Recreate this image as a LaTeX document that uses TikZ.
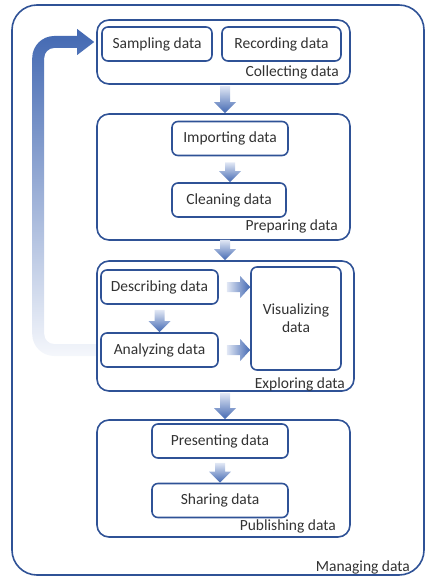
\documentclass[tikz,border=0pt]{standalone}
\usepackage{fontspec}
\setmainfont{Carlito}
\usetikzlibrary{calc}
\definecolor{boxblue}{RGB}{47,82,150}
\definecolor{flowdark}{RGB}{66,104,178}
\definecolor{flowlight}{RGB}{226,232,245}
\definecolor{inkgray}{RGB}{50,50,50}

\newcommand\downflow[2]{%
  \shade[top color=flowlight,bottom color=flowdark] let \p1=(#1),\p2=(#2) in
    (\x1-5pt,\y1) -- (\x1+5pt,\y1) -- (\x1+5pt,\y2+11pt) -- (\x1+11pt,\y2+11pt)
    -- (\x1,\y2) -- (\x1-11pt,\y2+11pt) -- (\x1-5pt,\y2+11pt) -- cycle;}
\newcommand\rightflow[2]{%
  \shade[left color=flowlight,right color=flowdark] let \p1=(#1),\p2=(#2) in
    (\x1,\y1-5pt) -- (\x1,\y1+5pt) -- (\x2-10pt,\y1+5pt) -- (\x2-10pt,\y1+11pt)
    -- (\x2,\y1) -- (\x2-10pt,\y1-11pt) -- (\x2-10pt,\y1-5pt) -- cycle;}

\begin{document}
\begin{tikzpicture}[x=1pt,y=-1pt,
  txt/.style={text=inkgray,font=\fontsize{15.5}{18}\selectfont},
  stage/.style={draw=boxblue,line width=1.6pt,rounded corners=12pt,
    minimum width=253pt,inner sep=0pt},
  task/.style={txt,draw=boxblue,line width=1.6pt,rounded corners=6pt,
    minimum height=34pt,inner sep=2pt},
  tag/.style={txt,anchor=east,inner sep=0pt}]
  \useasboundingbox (0,0) rectangle (425,578);

  \node[draw=boxblue,line width=1.6pt,rounded corners=25pt,minimum width=412pt,
    minimum height=570pt] (manage) at (218,290) {};
  \node[tag] at (410,567) {Managing data};

  % the four stages
  \node[stage,minimum height=64pt] (collect) at (223.5,52) {};
  \node[stage,minimum height=126pt] (prepare) at (223.5,177) {};
  \node[stage,minimum width=257pt,minimum height=130pt] (explore) at (225.5,326) {};
  \node[stage,minimum height=117pt] (publish) at (223.5,478.5) {};
  \node[tag] at (339,72) {Collecting data};
  \node[tag] at (338,226) {Preparing data};
  \node[tag] at (345,384) {Exploring data};
  \node[tag] at (336,526) {Publishing data};

  % the tasks inside them
  \node[task,minimum width=110pt] (sample) at (157,44) {Sampling data};
  \node[task,minimum width=119pt] (record) at (281.5,44) {Recording data};
  \node[task,minimum width=116pt] (import) at (230,138.5) {Importing data};
  \node[task,minimum width=114pt] (clean) at (229,200) {Cleaning data};
  \node[task,minimum width=117pt] (describe) at (159.5,287) {Describing data};
  \node[task,minimum width=117pt] (analyze) at (159.5,350) {Analyzing data};
  \node[task,minimum width=90pt,minimum height=103pt,align=center]
    (visual) at (296,318.5) {Visualizing\\data};
  \node[task,minimum width=136pt] (present) at (220,441) {Presenting data};
  \node[task,minimum width=136pt] (share) at (220,500.5) {Sharing data};

  \downflow{[shift={(1.5pt,-1pt)}]collect.south}{[xshift=1.5pt]prepare.north}
  \downflow{[shift={(1.5pt,1pt)}]prepare.south}{[xshift=-0.5pt]explore.north}
  \downflow{[shift={(-0.5pt,-1pt)}]explore.south}{[xshift=1.5pt]publish.north}
  \downflow{[yshift=-6pt]import.south}{clean.north}
  \downflow{[yshift=-4pt]present.south}{[xshift=5pt]share.north}
  \downflow{[yshift=-5pt]describe.south}{analyze.north}
  \rightflow{[xshift=8pt]describe.east}{[yshift=-29pt]visual.west}
  \rightflow{[xshift=8pt]analyze.east}{[yshift=-32pt]visual.west}

  % loop back from analysing to collecting
  \shade[top color=flowdark,bottom color=flowlight!35!white]
    let \p1=(analyze.west),\p2=([shift={(-2pt,10pt)}]collect.west) in
    (\x1-4pt,\y1-6pt) [rounded corners=22pt] -- (\x1-68pt,\y1-6pt)
    -- (\x1-68pt,\y2+6pt) [sharp corners] -- (\x2-17pt,\y2+6pt)
    -- (\x2-17pt,\y2+13pt) -- (\x2,\y2) -- (\x2-17pt,\y2-13pt)
    -- (\x2-17pt,\y2-6pt) [rounded corners=10pt] -- (\x1-56pt,\y2-6pt)
    -- (\x1-56pt,\y1+6pt) [sharp corners] -- (\x1-4pt,\y1+6pt) -- cycle;
\end{tikzpicture}
\end{document}
